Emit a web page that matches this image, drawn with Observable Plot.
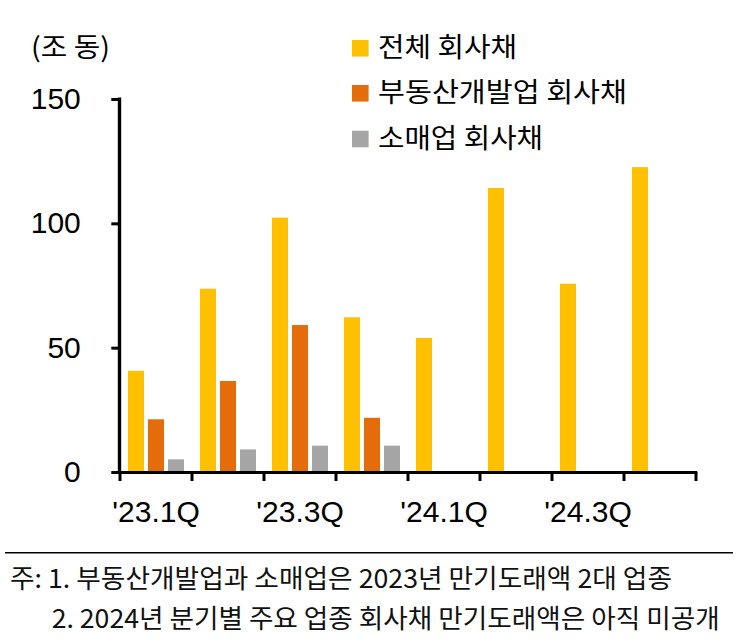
<!DOCTYPE html>
<html>
<head>
<meta charset="utf-8">
<script src="https://cdn.jsdelivr.net/npm/d3@7"></script>
<script src="https://cdn.jsdelivr.net/npm/@observablehq/plot@0.6"></script>
<style>
  html, body { margin: 0; padding: 0; background: #fff; }
  #wrap { position: relative; width: 741px; height: 640px; overflow: hidden; background: #fff; }
  #plot { position: absolute; left: 0; top: 0; }
  #overlay { position: absolute; left: 0; top: 0; pointer-events: none; }
</style>
</head>
<body>
<div id="wrap">
  <div id="plot"></div>
  <svg id="overlay" width="741" height="640"></svg>
</div>
<script>
// ---- data ----
const quarters = ["'23.1Q", "'23.2Q", "'23.3Q", "'23.4Q", "'24.1Q", "'24.2Q", "'24.3Q", "'24.4Q"];
const shownQuarterLabels = ["'23.1Q", "'23.3Q", "'24.1Q", "'24.3Q"];
const seriesNames = ["전체 회사채", "부동산개발업 회사채", "소매업 회사채"];
const seriesColors = ["#FFC000", "#E46C0A", "#A5A5A5"];
const totalBonds = [40.7, 73.7, 102.3, 62.2, 53.9, 114.2, 75.7, 122.6];
const realEstateBonds = [21.2, 36.6, 59.1, 21.8, null, null, null, null];
const retailBonds = [5.1, 9.1, 10.6, 10.6, null, null, null, null];
const yTicks = [0, 50, 100, 150];
const unitLabel = "(조 동)";
const noteLines = [
  "주: 1. 부동산개발업과 소매업은 2023년 만기도래액 2대 업종",
  "2. 2024년 분기별 주요 업종 회사채 만기도래액은 아직 미공개"
];

// ---- table for Plot ----
const seriesValues = [totalBonds, realEstateBonds, retailBonds];
const table = [];
quarters.forEach((q, i) => {
  seriesNames.forEach((s, j) => {
    const v = seriesValues[j][i];
    if (v != null) table.push({quarter: q, series: s, value: v});
  });
});

// ---- layout ----
const W = 741, H = 545;
const mL = 119, mR = 46, mT = 99, mB = 73;
const fxPadInner = 0.075, fxPadOuter = fxPadInner / 2;
const step = (W - mL - mR) / quarters.length;
const halfGap = step * fxPadInner / 2;
const facetW = step * (1 - fxPadInner);
const axisW = 3;
const tickFont = "'Liberation Sans', Arial, sans-serif";

const chart = Plot.plot({
  width: W,
  height: H,
  marginLeft: mL,
  marginRight: mR,
  marginTop: mT,
  marginBottom: mB,
  style: {fontFamily: tickFont, color: "#000", background: "transparent", overflow: "visible"},
  fx: {domain: quarters, paddingInner: fxPadInner, paddingOuter: fxPadOuter, label: null},
  x: {domain: seriesNames, paddingInner: 0.2, paddingOuter: 0.2, axis: null},
  y: {domain: [0, 150], label: null},
  color: {domain: seriesNames, range: seriesColors},
  marks: [
    Plot.barY(table, {fx: "quarter", x: "series", y: "value", fill: "series"}),
    // x axis baseline, continuous across facets
    Plot.ruleY([0], {insetLeft: -halfGap, insetRight: -halfGap - 1.5, stroke: "#000", strokeWidth: axisW}),
    // y axis line, in the first facet at the plot's left edge
    Plot.rect([quarters[0]], {
      fx: d => d, y1: 0, y2: 150, fill: "#000",
      insetLeft: -halfGap - axisW / 2, insetRight: facetW + halfGap - axisW / 2, insetTop: -1.5
    }),
    // y ticks and labels
    Plot.axisY({
      ticks: yTicks, tickSize: 8, tickPadding: 31,
      dx: -halfGap, stroke: "#000", strokeWidth: axisW, fontSize: 30, label: null, fill: "#000"
    }),
    // x labels at band centres (every other quarter)
    Plot.axisFx({
      anchor: "bottom", tickSize: 0, tickPadding: 28, fontSize: 30, label: null, fill: "#000",
      tickFormat: d => shownQuarterLabels.includes(d) ? d : ""
    }),
    // boundary ticks between quarters
    Plot.axisFx({
      anchor: "bottom", tickSize: 9, strokeWidth: axisW, stroke: "#000", label: null,
      tickFormat: () => "", dx: -step / 2
    }),
    Plot.axisFx({
      anchor: "bottom", ticks: [quarters[quarters.length - 1]], tickSize: 9, strokeWidth: axisW,
      stroke: "#000", label: null, tickFormat: () => "", dx: step / 2
    })
  ]
});
document.getElementById("plot").appendChild(chart);

// ---- title, legend and notes ----
const svg = d3.select("#overlay");
const cjk = "'Noto Sans CJK KR', 'Noto Sans', sans-serif";

svg.append("text")
  .attr("x", 31).attr("y", 57)
  .attr("font-family", cjk).attr("font-size", 27).attr("fill", "#000")
  .attr("textLength", 79).attr("lengthAdjust", "spacingAndGlyphs")
  .text(unitLabel);

const legendY = [48.3, 93.3, 139];
const legendLen = [139, 249, 165];
seriesNames.forEach((s, i) => {
  svg.append("rect")
    .attr("x", 352).attr("y", legendY[i] - 8.3)
    .attr("width", 16.6).attr("height", 16.6)
    .attr("fill", seriesColors[i]);
  svg.append("text")
    .attr("x", 378).attr("y", legendY[i] + 9)
    .attr("font-family", cjk).attr("font-size", 27).attr("fill", "#000")
    .attr("textLength", legendLen[i]).attr("lengthAdjust", "spacingAndGlyphs")
    .text(s);
});

svg.append("line")
  .attr("x1", 5).attr("x2", 733).attr("y1", 552.7).attr("y2", 552.7)
  .attr("stroke", "#000").attr("stroke-width", 1.5);

const noteX = [10, 51.7], noteY = [588, 628], noteLen = [662, 668];
noteLines.forEach((t, i) => {
  svg.append("text")
    .attr("x", noteX[i]).attr("y", noteY[i])
    .attr("font-family", cjk).attr("font-size", 26).attr("fill", "#111")
    .attr("textLength", noteLen[i]).attr("lengthAdjust", "spacingAndGlyphs")
    .text(t);
});
</script>
</body>
</html>
